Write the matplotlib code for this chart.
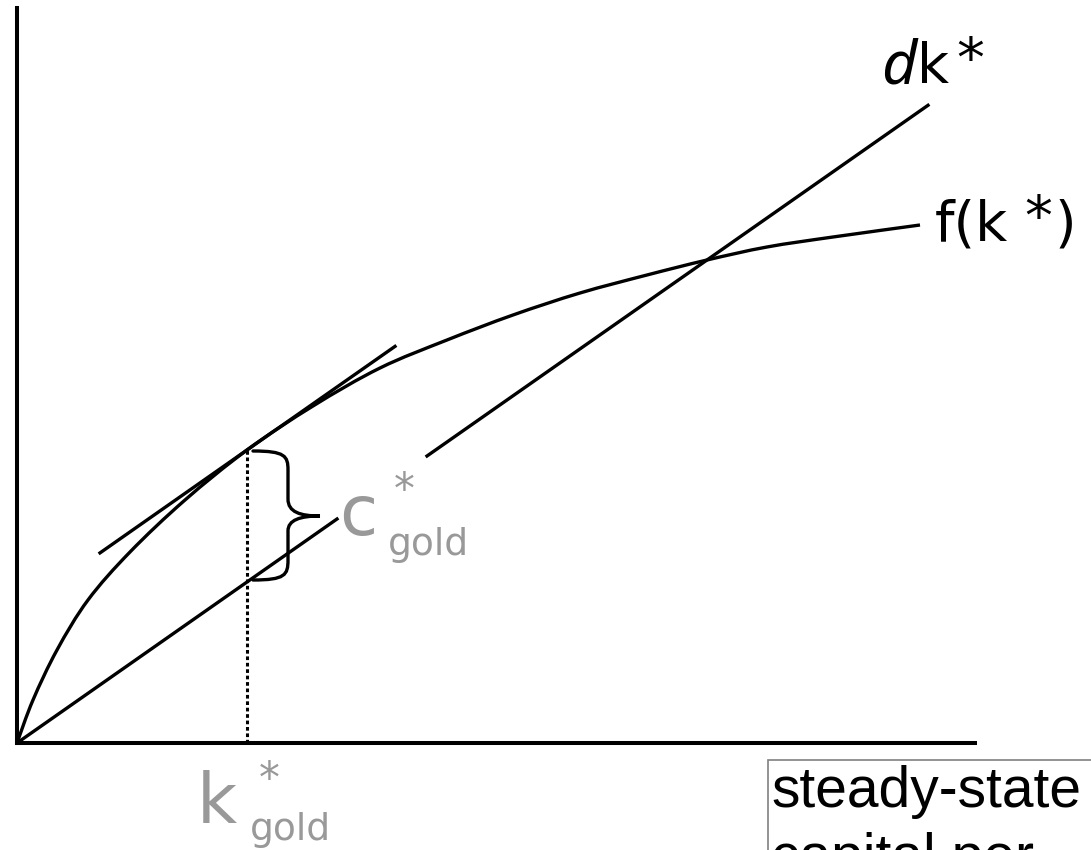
import matplotlib.pyplot as plt
from matplotlib.path import Path
from matplotlib.patches import PathPatch, Rectangle

W, H = 1091, 850
LINE_W = 2.4
AXIS_W = 2.9
GRAY = "#999999"

# production curve f(k*)
k_vals = [0.0, 0.16, 0.40, 0.71, 1.13, 1.68, 2.30, 2.96, 3.63, 4.30,
          4.96, 5.63, 6.30, 6.90, 7.50, 8.16, 9.03]
f_vals = [0.0, 0.43, 0.93, 1.43, 1.91, 2.43, 2.93, 3.37, 3.75, 4.03,
          4.28, 4.50, 4.68, 4.83, 4.96, 5.06, 5.18]

delta = 0.70            # slope of the depreciation line
dk_end = 9.11           # right end of the dk* line
dk_gap = (3.20, 4.10)   # line is broken behind the c label
k_gold = 2.30
f_gold = 2.93
tangent_k = [0.83, 3.78]


def fig_xy(px, py):
    # pixel position in the picture -> figure fraction
    return px / W, 1 - py / H


def smooth_path(xs, ys):
    # catmull-rom through the read points, as cubic bezier pieces
    pts = list(zip(xs, ys))
    ext = [pts[0]] + pts + [pts[-1]]
    verts, codes = [pts[0]], [Path.MOVETO]
    for i in range(1, len(ext) - 2):
        p0, p1, p2, p3 = ext[i - 1], ext[i], ext[i + 1], ext[i + 2]
        c1 = (p1[0] + (p2[0] - p0[0]) / 6, p1[1] + (p2[1] - p0[1]) / 6)
        c2 = (p2[0] - (p3[0] - p1[0]) / 6, p2[1] - (p3[1] - p1[1]) / 6)
        verts += [c1, c2, p2]
        codes += [Path.CURVE4] * 3
    return Path(verts, codes)


fig = plt.figure(figsize=(W / 100, H / 100), dpi=100)
ax = fig.add_axes([17 / W, 107 / H, 958 / W, 735 / H])
ax.set_xlim(0, 9.58)
ax.set_ylim(0, 7.35)
ax.set_xticks([])
ax.set_yticks([])
for side in ["top", "right"]:
    ax.spines[side].set_visible(False)
for side in ["left", "bottom"]:
    ax.spines[side].set_linewidth(AXIS_W)

# f(k*)
ax.add_patch(PathPatch(smooth_path(k_vals, f_vals), fill=False, lw=LINE_W,
                       edgecolor="black", clip_on=False))

# dk* line, in two pieces
ax.plot([0, dk_gap[0]], [0, delta * dk_gap[0]], color="black", lw=LINE_W)
ax.plot([dk_gap[1], dk_end], [delta * dk_gap[1], delta * dk_end],
        color="black", lw=LINE_W, clip_on=False)

# tangent at k_gold, same slope as dk*
ax.plot(tangent_k, [f_gold + delta * (k - k_gold) for k in tangent_k],
        color="black", lw=LINE_W)

# dotted drop line
ax.plot([k_gold, k_gold], [0, f_gold], color="black", lw=2.2,
        linestyle=(0, (1.2, 0.9)), dash_capstyle="butt")

# brace between the curve and the dk* line
xl, xs, xt = k_gold + 0.06, k_gold + 0.41, k_gold + 0.73
top, bot = f_gold - 0.01, delta * k_gold + 0.02
mid = 2.27
verts = [(xl, top), (xs - 0.03, top), (xs, top - 0.05), (xs, top - 0.19),
         (xs, mid + 0.17),
         (xs, mid + 0.04), (xs + 0.12, mid), (xt, mid),
         (xs + 0.12, mid), (xs, mid - 0.04), (xs, mid - 0.15),
         (xs, bot + 0.2),
         (xs, bot + 0.05), (xs - 0.03, bot), (xl, bot)]
codes = [Path.MOVETO, Path.CURVE4, Path.CURVE4, Path.CURVE4,
         Path.LINETO,
         Path.CURVE4, Path.CURVE4, Path.CURVE4,
         Path.CURVE4, Path.CURVE4, Path.CURVE4,
         Path.LINETO,
         Path.CURVE4, Path.CURVE4, Path.CURVE4]
ax.add_patch(PathPatch(Path(verts, codes), fill=False, lw=LINE_W,
                       edgecolor="black", capstyle="round"))

# labels
main = dict(family="DejaVu Sans", color="black", ha="left", va="baseline")
fig.text(*fig_xy(881, 83), "d", fontsize=44, style="italic",
         family="Noto Sans", color="black", ha="left", va="baseline")
fig.text(*fig_xy(917, 83), "k", fontsize=40, **main)
fig.text(*fig_xy(956, 77), "*", fontsize=40, **main)

fig.text(*fig_xy(935, 240), "f(k", fontsize=40, **main)
fig.text(*fig_xy(1024, 235), "*", fontsize=40, **main)
fig.text(*fig_xy(1055, 240), ")", fontsize=40, **main)

gray = dict(family="DejaVu Sans", color=GRAY, ha="left", va="baseline")
fig.text(*fig_xy(339, 535), "c", fontsize=50, **gray)
fig.text(*fig_xy(394, 503), "*", fontsize=30, **gray)
fig.text(*fig_xy(388, 555), "gold", fontsize=27, **gray)

fig.text(*fig_xy(197, 823), "k", fontsize=50, **gray)
fig.text(*fig_xy(259, 792), "*", fontsize=30, **gray)
fig.text(*fig_xy(250, 840), "gold", fontsize=27, **gray)

# axis title box, cut off by the picture edge
x0, y0 = fig_xy(768, 760)
fig.patches.append(Rectangle((x0, y0 - 0.2), 0.5, 0.2,
                             transform=fig.transFigure, fill=False,
                             edgecolor="#808080", lw=1.2))
box_txt = dict(fontsize=41, family="Liberation Sans", color="black",
               ha="left", va="baseline")
fig.text(*fig_xy(771, 807), "steady-state", **box_txt)
fig.text(*fig_xy(771, 874), "capital per", **box_txt)

fig.savefig("out.png", dpi=100)
